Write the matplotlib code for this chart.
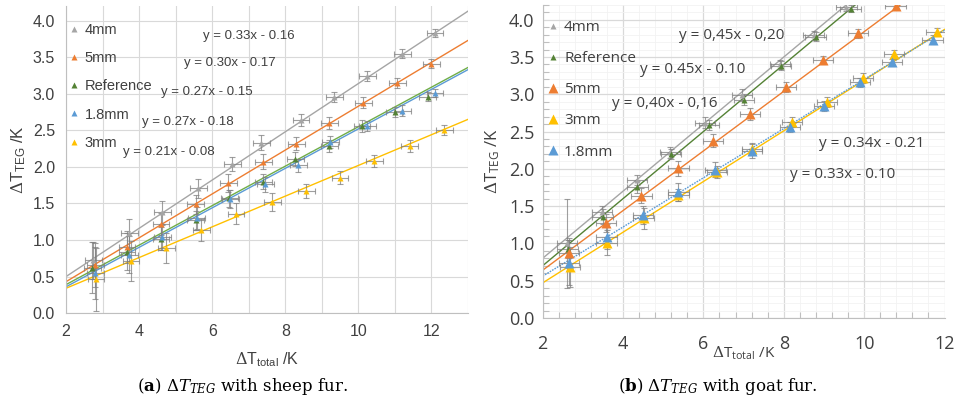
import matplotlib
matplotlib.use("Agg")
import matplotlib.pyplot as plt
from matplotlib.ticker import MultipleLocator
import numpy as np

plt.rcParams['mathtext.fontset'] = 'custom'
plt.rcParams['mathtext.rm'] = 'DejaVu Serif'
plt.rcParams['mathtext.it'] = 'DejaVu Serif:italic'
plt.rcParams['mathtext.bf'] = 'DejaVu Serif:bold'

GRAY = '#a5a5a5'
ORANGE = '#ed7d31'
GREEN_A = '#70ad47'
GREEN_B = '#548235'
BLUE = '#5b9bd5'
YELLOW = '#ffc000'
ERR = '#7f7f7f'

# ---- sheep fur ----
a_names = ["4mm", "5mm", "Reference", "1.8mm", "3mm"]
a_eqs = ["y = 0.33x - 0.16", "y = 0.30x - 0.17", "y = 0.27x - 0.15",
         "y = 0.27x - 0.18", "y = 0.21x - 0.08"]
a_fit = [(0.33, -0.16), (0.30, -0.17), (0.27, -0.15), (0.27, -0.18), (0.21, -0.08)]

a_x_4mm = [2.75, 3.73, 4.63, 5.62, 6.55, 7.34, 8.43, 9.34, 10.25, 11.2, 12.1]
a_y_4mm = [0.72, 1.09, 1.38, 1.71, 2.04, 2.33, 2.64, 2.96, 3.24, 3.55, 3.83]
a_e_4mm = [0.25, 0.2, 0.16, 0.13, 0.1, 0.1, 0.08, 0.07, 0.07, 0.06, 0.05]

a_x_5mm = [2.8, 3.67, 4.6, 5.55, 6.44, 7.4, 8.3, 9.2, 10.14, 11.07, 12.0]
a_y_5mm = [0.66, 0.91, 1.22, 1.49, 1.78, 2.07, 2.32, 2.60, 2.88, 3.15, 3.41]
a_e_5mm = [0.3, 0.22, 0.15, 0.13, 0.12, 0.1, 0.09, 0.08, 0.07, 0.07, 0.06]

a_x_ref = [2.72, 3.67, 4.6, 5.55, 6.47, 7.4, 8.27, 9.2, 10.1, 11.0, 11.9]
a_y_ref = [0.62, 0.84, 1.02, 1.27, 1.57, 1.80, 2.11, 2.29, 2.56, 2.75, 2.96]
a_e_ref = [0.35, 0.25, 0.16, 0.13, 0.12, 0.1, 0.1, 0.08, 0.08, 0.07, 0.06]

a_x_18 = [2.8, 3.73, 4.63, 5.58, 6.5, 7.45, 8.36, 9.23, 10.25, 11.2, 12.1]
a_y_18 = [0.55, 0.80, 1.04, 1.30, 1.56, 1.76, 2.02, 2.34, 2.56, 2.77, 3.01]
a_e_18 = [0.35, 0.25, 0.17, 0.15, 0.12, 0.1, 0.09, 0.08, 0.07, 0.07, 0.06]

a_x_3mm = [2.82, 3.78, 4.74, 5.7, 6.65, 7.65, 8.57, 9.5, 10.44, 11.4, 12.35]
a_y_3mm = [0.46, 0.71, 0.89, 1.14, 1.36, 1.52, 1.67, 1.85, 2.08, 2.29, 2.50]
a_e_3mm = [0.43, 0.27, 0.2, 0.15, 0.14, 0.12, 0.1, 0.09, 0.08, 0.08, 0.07]

a_xerr = 0.23

# ---- goat fur ----
b_names = ["4mm", "Reference", "5mm", "3mm", "1.8mm"]
b_eqs = ["y = 0,45x - 0,20", "y = 0.45x - 0.10", "y = 0,40x - 0,16",
         "y = 0.34x - 0.21", "y = 0.33x - 0.10"]
b_fit = [(0.45, -0.10), (0.45, -0.20), (0.40, -0.16), (0.34, -0.21), (0.33, -0.10)]

b_x_4mm = [2.6, 3.47, 4.34, 5.16, 6.05, 6.95, 7.9, 8.74, 9.56]
b_y_4mm = [1.0, 1.42, 1.85, 2.22, 2.62, 2.99, 3.40, 3.79, 4.17]
b_e_4mm = [0.6, 0.08, 0.07, 0.07, 0.07, 0.08, 0.06, 0.06, 0.05]

b_x_ref = [2.62, 3.49, 4.36, 5.2, 6.13, 7.02, 7.94, 8.79, 9.66]
b_y_ref = [0.93, 1.36, 1.76, 2.20, 2.59, 2.93, 3.38, 3.77, 4.15]
b_e_ref = [0.12, 0.1, 0.08, 0.07, 0.07, 0.08, 0.06, 0.06, 0.05]

b_x_5mm = [2.65, 3.57, 4.46, 5.38, 6.25, 7.17, 8.05, 8.97, 9.84, 10.78]
b_y_5mm = [0.87, 1.27, 1.64, 2.01, 2.38, 2.74, 3.10, 3.46, 3.82, 4.19]
b_e_5mm = [0.2, 0.12, 0.1, 0.1, 0.09, 0.08, 0.07, 0.06, 0.06, 0.05]

b_x_3mm = [2.67, 3.59, 4.51, 5.38, 6.33, 7.2, 8.2, 9.07, 9.96, 10.75, 11.8]
b_y_3mm = [0.68, 1.01, 1.34, 1.65, 1.96, 2.27, 2.63, 2.90, 3.22, 3.54, 3.84]
b_e_3mm = [0.27, 0.17, 0.14, 0.08, 0.08, 0.08, 0.07, 0.07, 0.07, 0.06, 0.05]

b_x_18 = [2.65, 3.59, 4.49, 5.38, 6.3, 7.22, 8.15, 9.0, 9.9, 10.7, 11.7]
b_y_18 = [0.74, 1.09, 1.38, 1.69, 1.99, 2.24, 2.56, 2.84, 3.16, 3.43, 3.73]
b_e_18 = [0.3, 0.17, 0.12, 0.12, 0.1, 0.09, 0.07, 0.07, 0.06, 0.05, 0.06]

b_xerr = 0.25

fig = plt.figure(figsize=(9.57, 4.03), dpi=100)
ax1 = fig.add_axes([0.069, 0.223, 0.420, 0.762])
ax2 = fig.add_axes([0.567, 0.211, 0.420, 0.777])

# left panel
a_series = [(a_x_4mm, a_y_4mm, a_e_4mm, GRAY),
            (a_x_5mm, a_y_5mm, a_e_5mm, ORANGE),
            (a_x_ref, a_y_ref, a_e_ref, GREEN_A),
            (a_x_18, a_y_18, a_e_18, BLUE),
            (a_x_3mm, a_y_3mm, a_e_3mm, YELLOW)]
xs = np.array([2, 13])
for (x, y, e, c), name, (m, b) in zip(a_series, a_names, a_fit):
    ax1.plot(xs, m * xs + b, color=c, lw=1.0, zorder=2)
    ax1.errorbar(x, y, xerr=a_xerr, yerr=e, fmt='none', ecolor=ERR,
                 elinewidth=0.8, capsize=2.5, capthick=0.8, alpha=0.75, zorder=3)
    ax1.plot(x, y, '^', color=c if c != GREEN_A else GREEN_B, ms=5,
             mec='none', label=name, zorder=4)

ax1.set_xlim(2, 13)
ax1.set_ylim(0, 4.2)
ax1.xaxis.set_major_locator(MultipleLocator(2))
ax1.xaxis.set_minor_locator(MultipleLocator(1))
ax1.yaxis.set_major_locator(MultipleLocator(0.5))
ax1.grid(True, which='both', color='#d9d9d9', lw=0.8)
ax1.set_axisbelow(True)
for s in ['top', 'right']:
    ax1.spines[s].set_visible(False)
for s in ['left', 'bottom']:
    ax1.spines[s].set_color('#bfbfbf')
ax1.tick_params(which='both', length=0, labelsize=11.5, labelcolor='#404040', pad=8)
ax1.set_yticks(np.arange(0, 4.01, 0.5))
ax1.set_yticklabels([f"{v:.1f}" for v in np.arange(0, 4.01, 0.5)])
for lab in ax1.get_xticklabels() + ax1.get_yticklabels():
    lab.set_family('Liberation Sans')
ax1.set_xlabel(r'$\Delta$T$_{\mathregular{total}}$ /K', family='Liberation Sans',
               fontsize=11.5, color='#404040')
ax1.set_ylabel(r'$\Delta$T$_{\mathregular{TEG}}$ /K', family='Liberation Sans',
               fontsize=12, color='#404040')
ax1.xaxis.set_label_coords(0.5, -0.12)
ax1.yaxis.set_label_coords(-0.095, 0.5)
leg1 = ax1.legend(loc='upper left', bbox_to_anchor=(-0.005, 0.965), frameon=False,
                  handlelength=0.5, handletextpad=0.5, labelspacing=0.98,
                  prop={'family': 'Liberation Sans', 'size': 10.5}, borderaxespad=0)
for t in leg1.get_texts():
    t.set_color('#404040')
a_eq_pos = [(7.01, 3.79), (6.47, 3.42), (5.86, 3.03), (5.32, 2.62), (4.82, 2.21)]
for txt, (px, py) in zip(a_eqs, a_eq_pos):
    ax1.text(px, py, txt, ha='center', va='center', fontsize=9.5,
             family='Liberation Sans', color='#404040')

# right panel
b_series = [(b_x_4mm, b_y_4mm, b_e_4mm, GRAY, 5, '-'),
            (b_x_ref, b_y_ref, b_e_ref, GREEN_B, 5, '-'),
            (b_x_5mm, b_y_5mm, b_e_5mm, ORANGE, 7, '-'),
            (b_x_3mm, b_y_3mm, b_e_3mm, YELLOW, 7.5, '-'),
            (b_x_18, b_y_18, b_e_18, BLUE, 7, (0, (1.2, 0.8)))]
xs = np.array([2, 12])
for (x, y, e, c, ms, ls), name, (m, b) in zip(b_series, b_names, b_fit):
    ax2.plot(xs, m * xs + b, color=c, lw=1.0, ls=ls, zorder=2)
    ax2.errorbar(x, y, xerr=b_xerr, yerr=e, fmt='none', ecolor=ERR,
                 elinewidth=0.8, capsize=2.5, capthick=0.8, alpha=0.75, zorder=3)
    ax2.plot(x, y, '^', color=c, ms=ms, mec='none', label=name, zorder=4)

ax2.set_xlim(2, 12)
ax2.set_ylim(0, 4.2)
ax2.xaxis.set_major_locator(MultipleLocator(2))
ax2.xaxis.set_minor_locator(MultipleLocator(0.4))
ax2.yaxis.set_major_locator(MultipleLocator(0.5))
ax2.yaxis.set_minor_locator(MultipleLocator(0.1))
ax2.grid(True, which='major', color='#d9d9d9', lw=0.9)
ax2.grid(True, which='minor', color='#f2f2f2', lw=0.6)
ax2.set_axisbelow(True)
for s in ['top', 'right']:
    ax2.spines[s].set_visible(False)
for s in ['left', 'bottom']:
    ax2.spines[s].set_color('#bfbfbf')
ax2.tick_params(which='major', length=0, labelsize=13, labelcolor='#404040')
ax2.tick_params(axis='x', which='major', pad=12)
ax2.tick_params(axis='y', which='major', pad=6)
ax2.tick_params(which='minor', length=4, direction='in', color='#bfbfbf', width=0.8)
ax2.set_yticks(np.arange(0, 4.01, 0.5))
ax2.set_yticklabels([f"{v:.1f}" for v in np.arange(0, 4.01, 0.5)])
for lab in ax2.get_xticklabels() + ax2.get_yticklabels():
    lab.set_family('Open Sans')
ax2.set_xlabel(r'$\Delta$T$_{\mathregular{total}}$ /K', family='Open Sans',
               fontsize=11, color='#404040')
ax2.set_ylabel(r'$\Delta$T$_{\mathregular{TEG}}$ /K', family='Open Sans',
               fontsize=12, color='#404040')
ax2.xaxis.set_label_coords(0.5, -0.085)
ax2.yaxis.set_label_coords(-0.1, 0.5)
leg2 = ax2.legend(loc='upper left', bbox_to_anchor=(0.0, 0.97), frameon=False,
                  handlelength=0.5, handletextpad=0.5, labelspacing=1.05,
                  prop={'family': 'Open Sans', 'size': 11}, borderaxespad=0)
for t in leg2.get_texts():
    t.set_color('#404040')
b_eq_pos = [(6.70, 3.79), (5.73, 3.33), (5.03, 2.87), (10.2, 2.34), (9.46, 1.93)]
for txt, (px, py) in zip(b_eqs, b_eq_pos):
    ax2.text(px, py, txt, ha='center', va='center', fontsize=11,
             family='Open Sans', color='#404040')

# captions
fig.text(0.253, 0.042, r'($\mathbf{a}$) $\Delta\mathit{T}_{\mathit{TEG}}$ with sheep fur.',
         ha='center', va='center', fontsize=12, family='DejaVu Serif')
fig.text(0.750, 0.042, r'($\mathbf{b}$) $\Delta\mathit{T}_{\mathit{TEG}}$ with goat fur.',
         ha='center', va='center', fontsize=12, family='DejaVu Serif')

fig.savefig('out.png', dpi=100)
